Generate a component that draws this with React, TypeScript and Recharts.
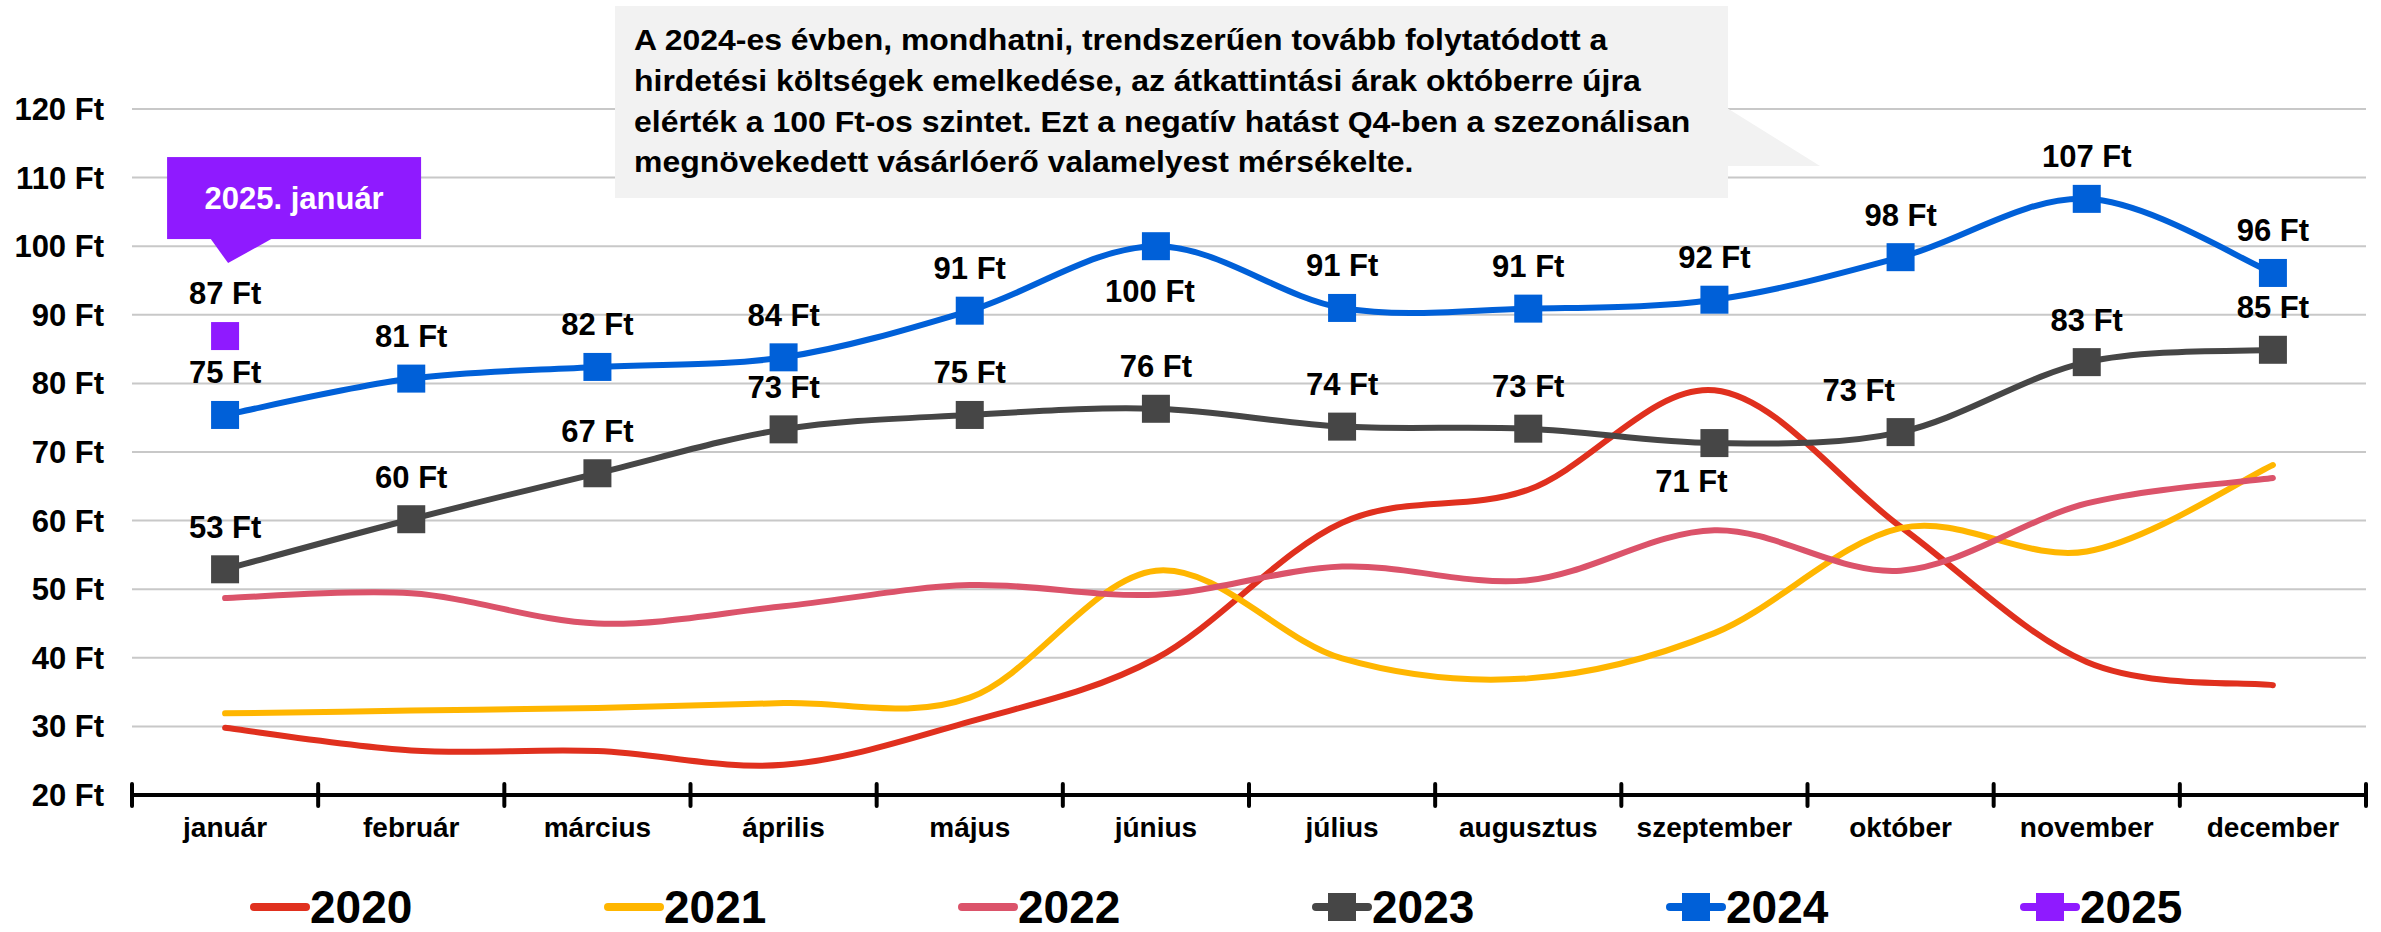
import React from 'react';
import { LineChart, Line, XAxis, YAxis, CartesianGrid, Legend, LabelList } from 'recharts';

// havi átlagos CPC (Ft)
const months = ['január', 'február', 'március', 'április', 'május', 'június', 'július', 'augusztus', 'szeptember', 'október', 'november', 'december'];
const cpc2020 = [29.8, 26.5, 26.4, 24.4, 30.7, 39.9, 59.7, 64.5, 79.0, 59.1, 39.4, 36.0];
const cpc2021 = [31.9, 32.3, 32.7, 33.4, 34.2, 52.7, 39.9, 37.0, 43.6, 58.9, 55.5, 68.1];
const cpc2022 = [48.7, 49.4, 45.0, 47.5, 50.6, 49.2, 53.3, 51.3, 58.6, 52.7, 62.5, 66.2];
const cpc2023 = [52.9, 60.2, 66.9, 73.3, 75.4, 76.3, 73.7, 73.4, 71.3, 72.9, 83.1, 84.9];
const cpc2024 = [75.4, 80.7, 82.4, 83.8, 90.6, 100.0, 91.0, 90.9, 92.2, 98.4, 106.9, 96.1];
const cpc2025 = [86.9];
const yTicks = [20, 30, 40, 50, 60, 70, 80, 90, 100, 110, 120];

const W = 2381;
const H = 932;
const FONT = 'Arial, "Liberation Sans", Helvetica, sans-serif';
const PLOT_LEFT = 132;
const PLOT_RIGHT = 2366;
const BAND = (PLOT_RIGHT - PLOT_LEFT) / months.length;

const series = [
  { key: 'y2020', name: '2020', color: '#E0301E', marker: false },
  { key: 'y2021', name: '2021', color: '#FFB600', marker: false },
  { key: 'y2022', name: '2022', color: '#DB536A', marker: false },
  { key: 'y2023', name: '2023', color: '#464646', marker: true },
  { key: 'y2024', name: '2024', color: '#0060D8', marker: true },
  { key: 'y2025', name: '2025', color: '#8F1AFF', marker: true },
];

const data = months.map((m, i) => ({
  month: m,
  y2020: cpc2020[i],
  y2021: cpc2021[i],
  y2022: cpc2022[i],
  y2023: cpc2023[i],
  y2024: cpc2024[i],
  y2025: i < cpc2025.length ? cpc2025[i] : null,
}));

// Excel-like smoothed line (Catmull-Rom bezier)
const excelSmooth = (context: any) => {
  let pts: number[][] = [];
  return {
    areaStart() {},
    areaEnd() {},
    lineStart() {
      pts = [];
    },
    point(x: number, y: number) {
      pts.push([+x, +y]);
    },
    lineEnd() {
      if (pts.length < 2) return;
      context.moveTo(pts[0][0], pts[0][1]);
      for (let i = 0; i < pts.length - 1; i++) {
        const p0 = pts[i - 1] || pts[i];
        const p1 = pts[i];
        const p2 = pts[i + 1];
        const p3 = pts[i + 2] || p2;
        context.bezierCurveTo(
          p1[0] + (p2[0] - p0[0]) / 6,
          p1[1] + (p2[1] - p0[1]) / 6,
          p2[0] - (p3[0] - p1[0]) / 6,
          p2[1] - (p3[1] - p1[1]) / 6,
          p2[0],
          p2[1]
        );
      }
    },
  };
};

const squareDot = (color: string) => (props: any) => {
  const { cx, cy, index, value } = props;
  if (cx == null || cy == null || value == null) return <g key={`d${index}`} />;
  return <rect key={`d${index}`} x={cx - 14} y={cy - 14} width={28} height={28} fill={color} />;
};

// label offsets where the default (above the point) was moved
const shift2023: Record<number, number[]> = { 8: [-23, 38], 9: [-42, -42] };
const shift2024: Record<number, number[]> = { 5: [-6, 45] };

const makeLabel = (shifts: Record<number, number[]>) => (props: any) => {
  const { x, y, value, index } = props;
  if (value == null || x == null) return null;
  const [dx, dy] = shifts[index] || [0, -42];
  return (
    <text
      key={`l${index}`}
      x={x + dx}
      y={y + dy}
      textAnchor="middle"
      dominantBaseline="central"
      fontSize={31}
      fontWeight="bold"
      fontFamily={FONT}
      fill="#000"
    >
      {`${Math.round(value)} Ft`}
    </text>
  );
};

const label2025 = (props: any) => {
  const { x, y, value, index } = props;
  if (value == null || x == null) return null;
  const purple = '#8F1AFF';
  return (
    <g key={`c${index}`}>
      <rect x={x - 58} y={y - 179} width={254} height={82} fill={purple} />
      <polygon points={`${x - 15},${y - 98} ${x + 48},${y - 98} ${x + 3},${y - 73}`} fill={purple} />
      <text
        x={x + 69}
        y={y - 138}
        textAnchor="middle"
        dominantBaseline="central"
        fontSize={31}
        fontWeight="bold"
        fontFamily={FONT}
        fill="#fff"
      >
        2025. január
      </text>
      <text
        x={x}
        y={y - 43}
        textAnchor="middle"
        dominantBaseline="central"
        fontSize={31}
        fontWeight="bold"
        fontFamily={FONT}
        fill="#000"
      >
        {`${Math.round(value)} Ft`}
      </text>
    </g>
  );
};

const MonthTick = (props: any) => {
  const { x, y, payload } = props;
  const idx = payload.index ?? props.index;
  return (
    <g>
      <line x1={x - BAND / 2} x2={x - BAND / 2} y1={y - 11} y2={y + 11} stroke="#000" strokeWidth={4} strokeLinecap="round" />
      {idx === months.length - 1 && (
        <line x1={x + BAND / 2} x2={x + BAND / 2} y1={y - 11} y2={y + 11} stroke="#000" strokeWidth={4} strokeLinecap="round" />
      )}
      <text x={x} y={y + 32} textAnchor="middle" dominantBaseline="central" fontSize={28} fontWeight="bold" fontFamily={FONT} fill="#000">
        {payload.value}
      </text>
    </g>
  );
};

const renderLegend = () => (
  <div style={{ width: W, height: 70, position: 'relative', fontFamily: FONT }}>
    {series.map((s, i) => (
      <div
        key={s.key}
        style={{ position: 'absolute', left: 250 + i * 354, top: 22, height: 46, display: 'flex', alignItems: 'center' }}
      >
        <svg width={60} height={30} style={{ display: 'block' }}>
          <line x1={4} y1={15} x2={56} y2={15} stroke={s.color} strokeWidth={8} strokeLinecap="round" />
          {s.marker && <rect x={16} y={1} width={28} height={28} fill={s.color} />}
        </svg>
        <span style={{ fontSize: 46, fontWeight: 'bold', lineHeight: '46px', color: '#000' }}>{s.name}</span>
      </div>
    ))}
  </div>
);

export default function App() {
  return (
    <div style={{ position: 'absolute', left: 0, top: 0, width: W, height: H, overflow: 'hidden', background: '#fff' }}>
      <LineChart width={W} height={H} data={data} margin={{ top: 109, right: W - PLOT_RIGHT, bottom: 0, left: 0 }}>
        <CartesianGrid vertical={false} stroke="#c8c8c8" strokeWidth={2} />
        <XAxis
          dataKey="month"
          height={67}
          interval={0}
          padding={{ left: BAND / 2, right: BAND / 2 }}
          tickSize={0}
          tickMargin={0}
          tickLine={false}
          axisLine={{ stroke: '#000', strokeWidth: 4 }}
          tick={<MonthTick />}
        />
        <YAxis
          domain={[20, 120]}
          ticks={yTicks}
          interval={0}
          width={PLOT_LEFT}
          axisLine={false}
          tickLine={false}
          tickSize={0}
          tickMargin={28}
          tickFormatter={(v: number) => `${v} Ft`}
          tick={{ fontSize: 31, fontWeight: 'bold', fill: '#000', fontFamily: FONT }}
        />
        <Legend verticalAlign="bottom" content={renderLegend} wrapperStyle={{ left: 0, bottom: 0, width: W }} />
        <Line dataKey="y2020" name="2020" type={excelSmooth as any} stroke={series[0].color} strokeWidth={6} strokeLinecap="round" dot={false} isAnimationActive={false} />
        <Line dataKey="y2021" name="2021" type={excelSmooth as any} stroke={series[1].color} strokeWidth={6} strokeLinecap="round" dot={false} isAnimationActive={false} />
        <Line dataKey="y2022" name="2022" type={excelSmooth as any} stroke={series[2].color} strokeWidth={6} strokeLinecap="round" dot={false} isAnimationActive={false} />
        <Line dataKey="y2023" name="2023" type={excelSmooth as any} stroke={series[3].color} strokeWidth={6} dot={squareDot(series[3].color)} isAnimationActive={false}>
          <LabelList dataKey="y2023" content={makeLabel(shift2023)} />
        </Line>
        <Line dataKey="y2024" name="2024" type={excelSmooth as any} stroke={series[4].color} strokeWidth={6} dot={squareDot(series[4].color)} isAnimationActive={false}>
          <LabelList dataKey="y2024" content={makeLabel(shift2024)} />
        </Line>
        <Line dataKey="y2025" name="2025" type={excelSmooth as any} stroke={series[5].color} strokeWidth={6} dot={squareDot(series[5].color)} isAnimationActive={false}>
          <LabelList dataKey="y2025" content={label2025} />
        </Line>
      </LineChart>

      {/* comment box */}
      <svg width={W} height={H} style={{ position: 'absolute', left: 0, top: 0, pointerEvents: 'none' }}>
        <rect x={615} y={6} width={1113} height={192} fill="#f2f2f2" />
        <polygon points="1727,108 1820,166 1727,166" fill="#f2f2f2" />
        <g transform="translate(634 0) scale(1.065 1) translate(-634 0)">
          <text fontFamily={FONT} fontWeight="bold" fontSize={30} fill="#000">
            <tspan x={634} y={50}>A 2024-es évben, mondhatni, trendszerűen tovább folytatódott a</tspan>
            <tspan x={634} y={91}>hirdetési költségek emelkedése, az átkattintási árak októberre újra</tspan>
            <tspan x={634} y={132}>elérték a 100 Ft-os szintet. Ezt a negatív hatást Q4-ben a szezonálisan</tspan>
            <tspan x={634} y={172}>megnövekedett vásárlóerő valamelyest mérsékelte.</tspan>
          </text>
        </g>
      </svg>
    </div>
  );
}
